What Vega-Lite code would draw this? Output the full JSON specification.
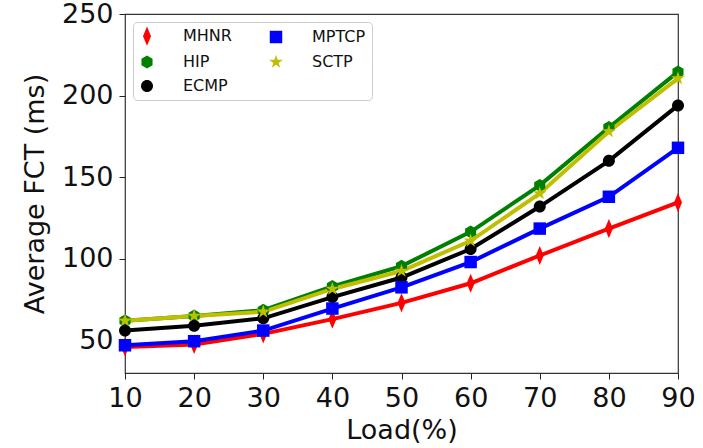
{
  "$schema": "https://vega.github.io/schema/vega-lite/v6.json",
  "width": 553,
  "height": 359,
  "autosize": {"type": "none"},
  "padding": {"left": 125, "top": 14, "right": 25, "bottom": 75},
  "background": "white",
  "config": {
    "font": "DejaVu Sans",
    "view": {"stroke": "#333333", "strokeWidth": 1.2},
    "axis": {
      "grid": false,
      "domain": false,
      "tickColor": "#222222",
      "tickSize": 6,
      "tickWidth": 1,
      "labelFont": "DejaVu Sans",
      "labelFontSize": 27,
      "labelColor": "#111111",
      "titleFont": "DejaVu Sans",
      "titleFontSize": 27,
      "titleFontWeight": "normal",
      "titleColor": "#111111"
    }
  },
  "data": {
    "values": [
      {"load": 10, "fct": 46, "series": "MHNR"},
      {"load": 20, "fct": 47.5, "series": "MHNR"},
      {"load": 30, "fct": 54, "series": "MHNR"},
      {"load": 40, "fct": 63, "series": "MHNR"},
      {"load": 50, "fct": 73, "series": "MHNR"},
      {"load": 60, "fct": 85, "series": "MHNR"},
      {"load": 70, "fct": 102, "series": "MHNR"},
      {"load": 80, "fct": 118.5, "series": "MHNR"},
      {"load": 90, "fct": 134.5, "series": "MHNR"},
      {"load": 10, "fct": 62, "series": "HIP"},
      {"load": 20, "fct": 65, "series": "HIP"},
      {"load": 30, "fct": 68.5, "series": "HIP"},
      {"load": 40, "fct": 83, "series": "HIP"},
      {"load": 50, "fct": 95.5, "series": "HIP"},
      {"load": 60, "fct": 116.5, "series": "HIP"},
      {"load": 70, "fct": 145, "series": "HIP"},
      {"load": 80, "fct": 180.5, "series": "HIP"},
      {"load": 90, "fct": 214.5, "series": "HIP"},
      {"load": 10, "fct": 56, "series": "ECMP"},
      {"load": 20, "fct": 59, "series": "ECMP"},
      {"load": 30, "fct": 63.5, "series": "ECMP"},
      {"load": 40, "fct": 76.5, "series": "ECMP"},
      {"load": 50, "fct": 88.5, "series": "ECMP"},
      {"load": 60, "fct": 106, "series": "ECMP"},
      {"load": 70, "fct": 132, "series": "ECMP"},
      {"load": 80, "fct": 160, "series": "ECMP"},
      {"load": 90, "fct": 194, "series": "ECMP"},
      {"load": 10, "fct": 47, "series": "MPTCP"},
      {"load": 20, "fct": 49.5, "series": "MPTCP"},
      {"load": 30, "fct": 56, "series": "MPTCP"},
      {"load": 40, "fct": 69.5, "series": "MPTCP"},
      {"load": 50, "fct": 82.5, "series": "MPTCP"},
      {"load": 60, "fct": 98, "series": "MPTCP"},
      {"load": 70, "fct": 118.5, "series": "MPTCP"},
      {"load": 80, "fct": 138, "series": "MPTCP"},
      {"load": 90, "fct": 168, "series": "MPTCP"},
      {"load": 10, "fct": 62, "series": "SCTP"},
      {"load": 20, "fct": 65, "series": "SCTP"},
      {"load": 30, "fct": 67.5, "series": "SCTP"},
      {"load": 40, "fct": 81.5, "series": "SCTP"},
      {"load": 50, "fct": 92.5, "series": "SCTP"},
      {"load": 60, "fct": 111, "series": "SCTP"},
      {"load": 70, "fct": 140, "series": "SCTP"},
      {"load": 80, "fct": 178, "series": "SCTP"},
      {"load": 90, "fct": 210.5, "series": "SCTP"}
    ]
  },
  "encoding": {
    "x": {
      "field": "load",
      "type": "quantitative",
      "title": "Load(%)",
      "scale": {"domain": [10, 90], "nice": false, "zero": false},
      "axis": {"values": [10, 20, 30, 40, 50, 60, 70, 80, 90], "labelPadding": 6, "titlePadding": 6, "labelFlush": false}
    },
    "y": {
      "field": "fct",
      "type": "quantitative",
      "title": "Average FCT (ms)",
      "scale": {"domain": [30, 250], "nice": false, "zero": false},
      "axis": {"values": [50, 100, 150, 200, 250], "labelPadding": 6, "titlePadding": 12}
    },
    "color": {
      "field": "series",
      "type": "nominal",
      "scale": {
        "domain": ["MHNR", "MPTCP", "HIP", "SCTP", "ECMP"],
        "range": ["#ff0000", "#0000ff", "#008000", "#bfbf00", "#000000"]
      },
      "legend": {
        "title": null,
        "orient": "top-left",
        "offset": 8,
        "columns": 2,
        "direction": "horizontal",
        "columnPadding": 36,
        "rowPadding": 8,
        "padding": 6,
        "fillColor": "white",
        "strokeColor": "#cccccc",
        "cornerRadius": 4,
        "symbolSize": 256,
        "symbolStrokeWidth": 0,
        "labelFont": "DejaVu Sans",
        "labelFontSize": 16,
        "labelColor": "#111111",
        "labelOffset": 28
      }
    }
  },
  "layer": [
    {
      "mark": {"type": "line", "strokeWidth": 4}
    },
    {
      "mark": {"type": "point", "filled": true, "opacity": 1, "size": 256, "strokeWidth": 0},
      "encoding": {
        "shape": {
          "field": "series",
          "type": "nominal",
          "legend": null,
          "scale": {
            "domain": ["MHNR", "MPTCP", "HIP", "SCTP", "ECMP"],
            "range": [
              "M0,-1.2L0.5,0L0,1.2L-0.5,0Z",
              "M-0.78,-0.78L0.78,-0.78L0.78,0.78L-0.78,0.78Z",
              "M0,-0.8L0.693,-0.4L0.693,0.4L0,0.8L-0.693,0.4L-0.693,-0.4Z",
              "M0,-0.9L0.2,-0.28L0.86,-0.28L0.33,0.11L0.53,0.73L0,0.34L-0.53,0.73L-0.33,0.11L-0.86,-0.28L-0.2,-0.28Z",
              "M-0.75,0A0.75,0.75,0,1,1,0.75,0A0.75,0.75,0,1,1,-0.75,0Z"
            ]
          }
        }
      }
    }
  ]
}
